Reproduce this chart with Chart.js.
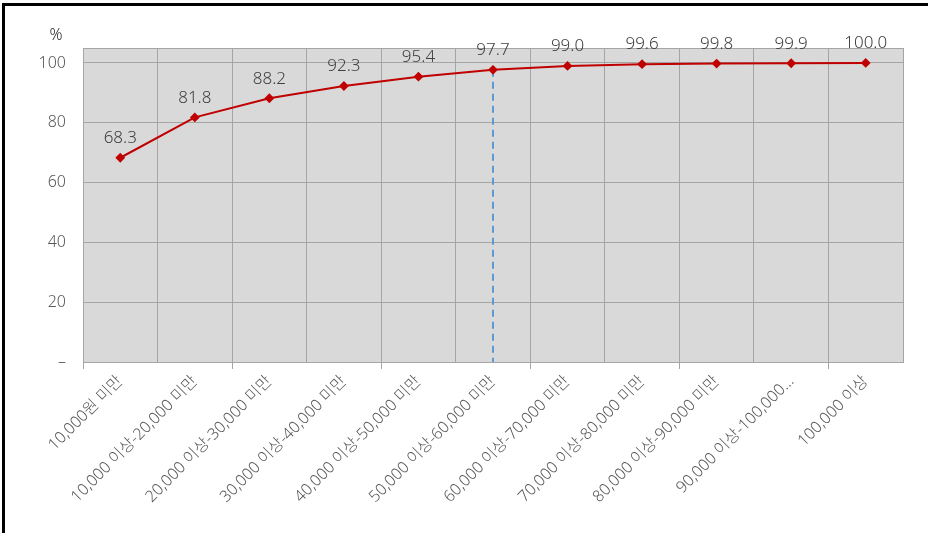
<!DOCTYPE html>
<html>
<head>
<meta charset="utf-8">
<script src="https://cdn.jsdelivr.net/npm/chart.js@4.4.1/dist/chart.umd.min.js"></script>
<style>
  html, body { margin: 0; padding: 0; background: #fff; }
  #wrap { position: relative; width: 928px; height: 533px; overflow: hidden; }
  #c { position: absolute; left: 0; top: 0; }
  #frame { position: absolute; left: 2px; top: 3px; width: 940px; height: 540px;
           border-left: 3px solid #000; border-top: 3px solid #000; pointer-events: none; }
</style>
</head>
<body>
<div id="wrap">
  <canvas id="c" width="928" height="533"></canvas>
  <div id="frame"></div>
</div>
<script>
const categories = [
  "10,000원 미만",
  "10,000 이상-20,000 미만",
  "20,000 이상-30,000 미만",
  "30,000 이상-40,000 미만",
  "40,000 이상-50,000 미만",
  "50,000 이상-60,000 미만",
  "60,000 이상-70,000 미만",
  "70,000 이상-80,000 미만",
  "80,000 이상-90,000 미만",
  "90,000 이상-100,000…",
  "100,000 이상"
];
const cumulativePct = [68.3, 81.8, 88.2, 92.3, 95.4, 97.7, 99.0, 99.6, 99.8, 99.9, 100.0];
const markerIndex = 5;
const yTicks = [0, 20, 40, 60, 80, 100];
const yMax = 105;
const unitLabel = "%";

const FONT = "'Noto Sans', 'Noto Sans CJK KR', sans-serif";
const GRID = "#a5a5a5";

const overlay = {
  id: 'overlay',
  beforeDatasetsDraw(chart) {
    const ctx = chart.ctx;
    const x = chart.scales.x.getPixelForValue(markerIndex);
    const y1 = chart.scales.y.getPixelForValue(cumulativePct[markerIndex]);
    const y2 = chart.scales.y.getPixelForValue(0);
    ctx.save();
    ctx.strokeStyle = '#5b9bd5';
    ctx.lineWidth = 2;
    ctx.setLineDash([7, 5]);
    ctx.beginPath();
    ctx.moveTo(x, y1);
    ctx.lineTo(x, y2);
    ctx.stroke();
    ctx.restore();
  },
  afterDatasetsDraw(chart) {
    const ctx = chart.ctx;
    const meta = chart.getDatasetMeta(0);
    ctx.save();
    ctx.font = "300 17px " + FONT;
    ctx.fillStyle = '#404040';
    ctx.textAlign = 'center';
    ctx.textBaseline = 'bottom';
    meta.data.forEach((pt, i) => {
      ctx.fillText(cumulativePct[i].toFixed(1), pt.x, pt.y - 11);
    });
    ctx.font = "300 16px " + FONT;
    ctx.fillStyle = '#262626';
    ctx.textBaseline = 'middle';
    ctx.fillText(unitLabel, chart.chartArea.left - 27, chart.chartArea.top - 13);
    ctx.restore();
  }
};

const plotBg = {
  id: 'plotBg',
  beforeDraw(chart) {
    const a = chart.chartArea;
    const ctx = chart.ctx;
    ctx.save();
    ctx.fillStyle = '#d9d9d9';
    ctx.fillRect(a.left, a.top, a.right - a.left, a.bottom - a.top);
    ctx.restore();
  }
};

new Chart(document.getElementById('c'), {
  type: 'line',
  data: {
    labels: categories,
    datasets: [{
      data: cumulativePct,
      borderColor: '#c00000',
      backgroundColor: '#c00000',
      borderWidth: 2,
      pointStyle: 'rectRot',
      pointRadius: 3.5,
      pointHoverRadius: 3.5,
      tension: 0
    }]
  },
  options: {
    responsive: false,
    animation: false,
    devicePixelRatio: 1,
    layout: { padding: { top: 48, right: 25, left: 0, bottom: 0 } },
    plugins: { legend: { display: false }, tooltip: { enabled: false } },
    scales: {
      x: {
        offset: true,
        grid: {
          offset: true,
          color: GRID,
          lineWidth: 1,
          tickLength: 7,
          tickColor: (c) => (c.index !== undefined && c.index % 2 === 0) ? GRID : 'rgba(0,0,0,0)'
        },
        border: { color: GRID, width: 1 },
        ticks: {
          color: '#595959',
          font: { family: FONT, size: 16, weight: '300' },
          minRotation: 45,
          maxRotation: 45,
          autoSkip: false,
          padding: 3
        },
        afterFit(s) { s.height = 171; }
      },
      y: {
        min: 0,
        max: yMax,
        afterBuildTicks(s) {
          s.ticks = yTicks.map(v => ({ value: v })).concat([{ value: yMax }]);
        },
        grid: { color: GRID, lineWidth: 1, drawTicks: false },
        border: { color: GRID, width: 1 },
        ticks: {
          color: '#595959',
          font: { family: FONT, size: 16, weight: '300' },
          padding: 17,
          callback: (v) => v === 0 ? '–' : (v === yMax ? '' : String(v))
        },
        afterFit(s) { s.width = 83; }
      }
    }
  },
  plugins: [plotBg, overlay]
});
</script>
</body>
</html>
